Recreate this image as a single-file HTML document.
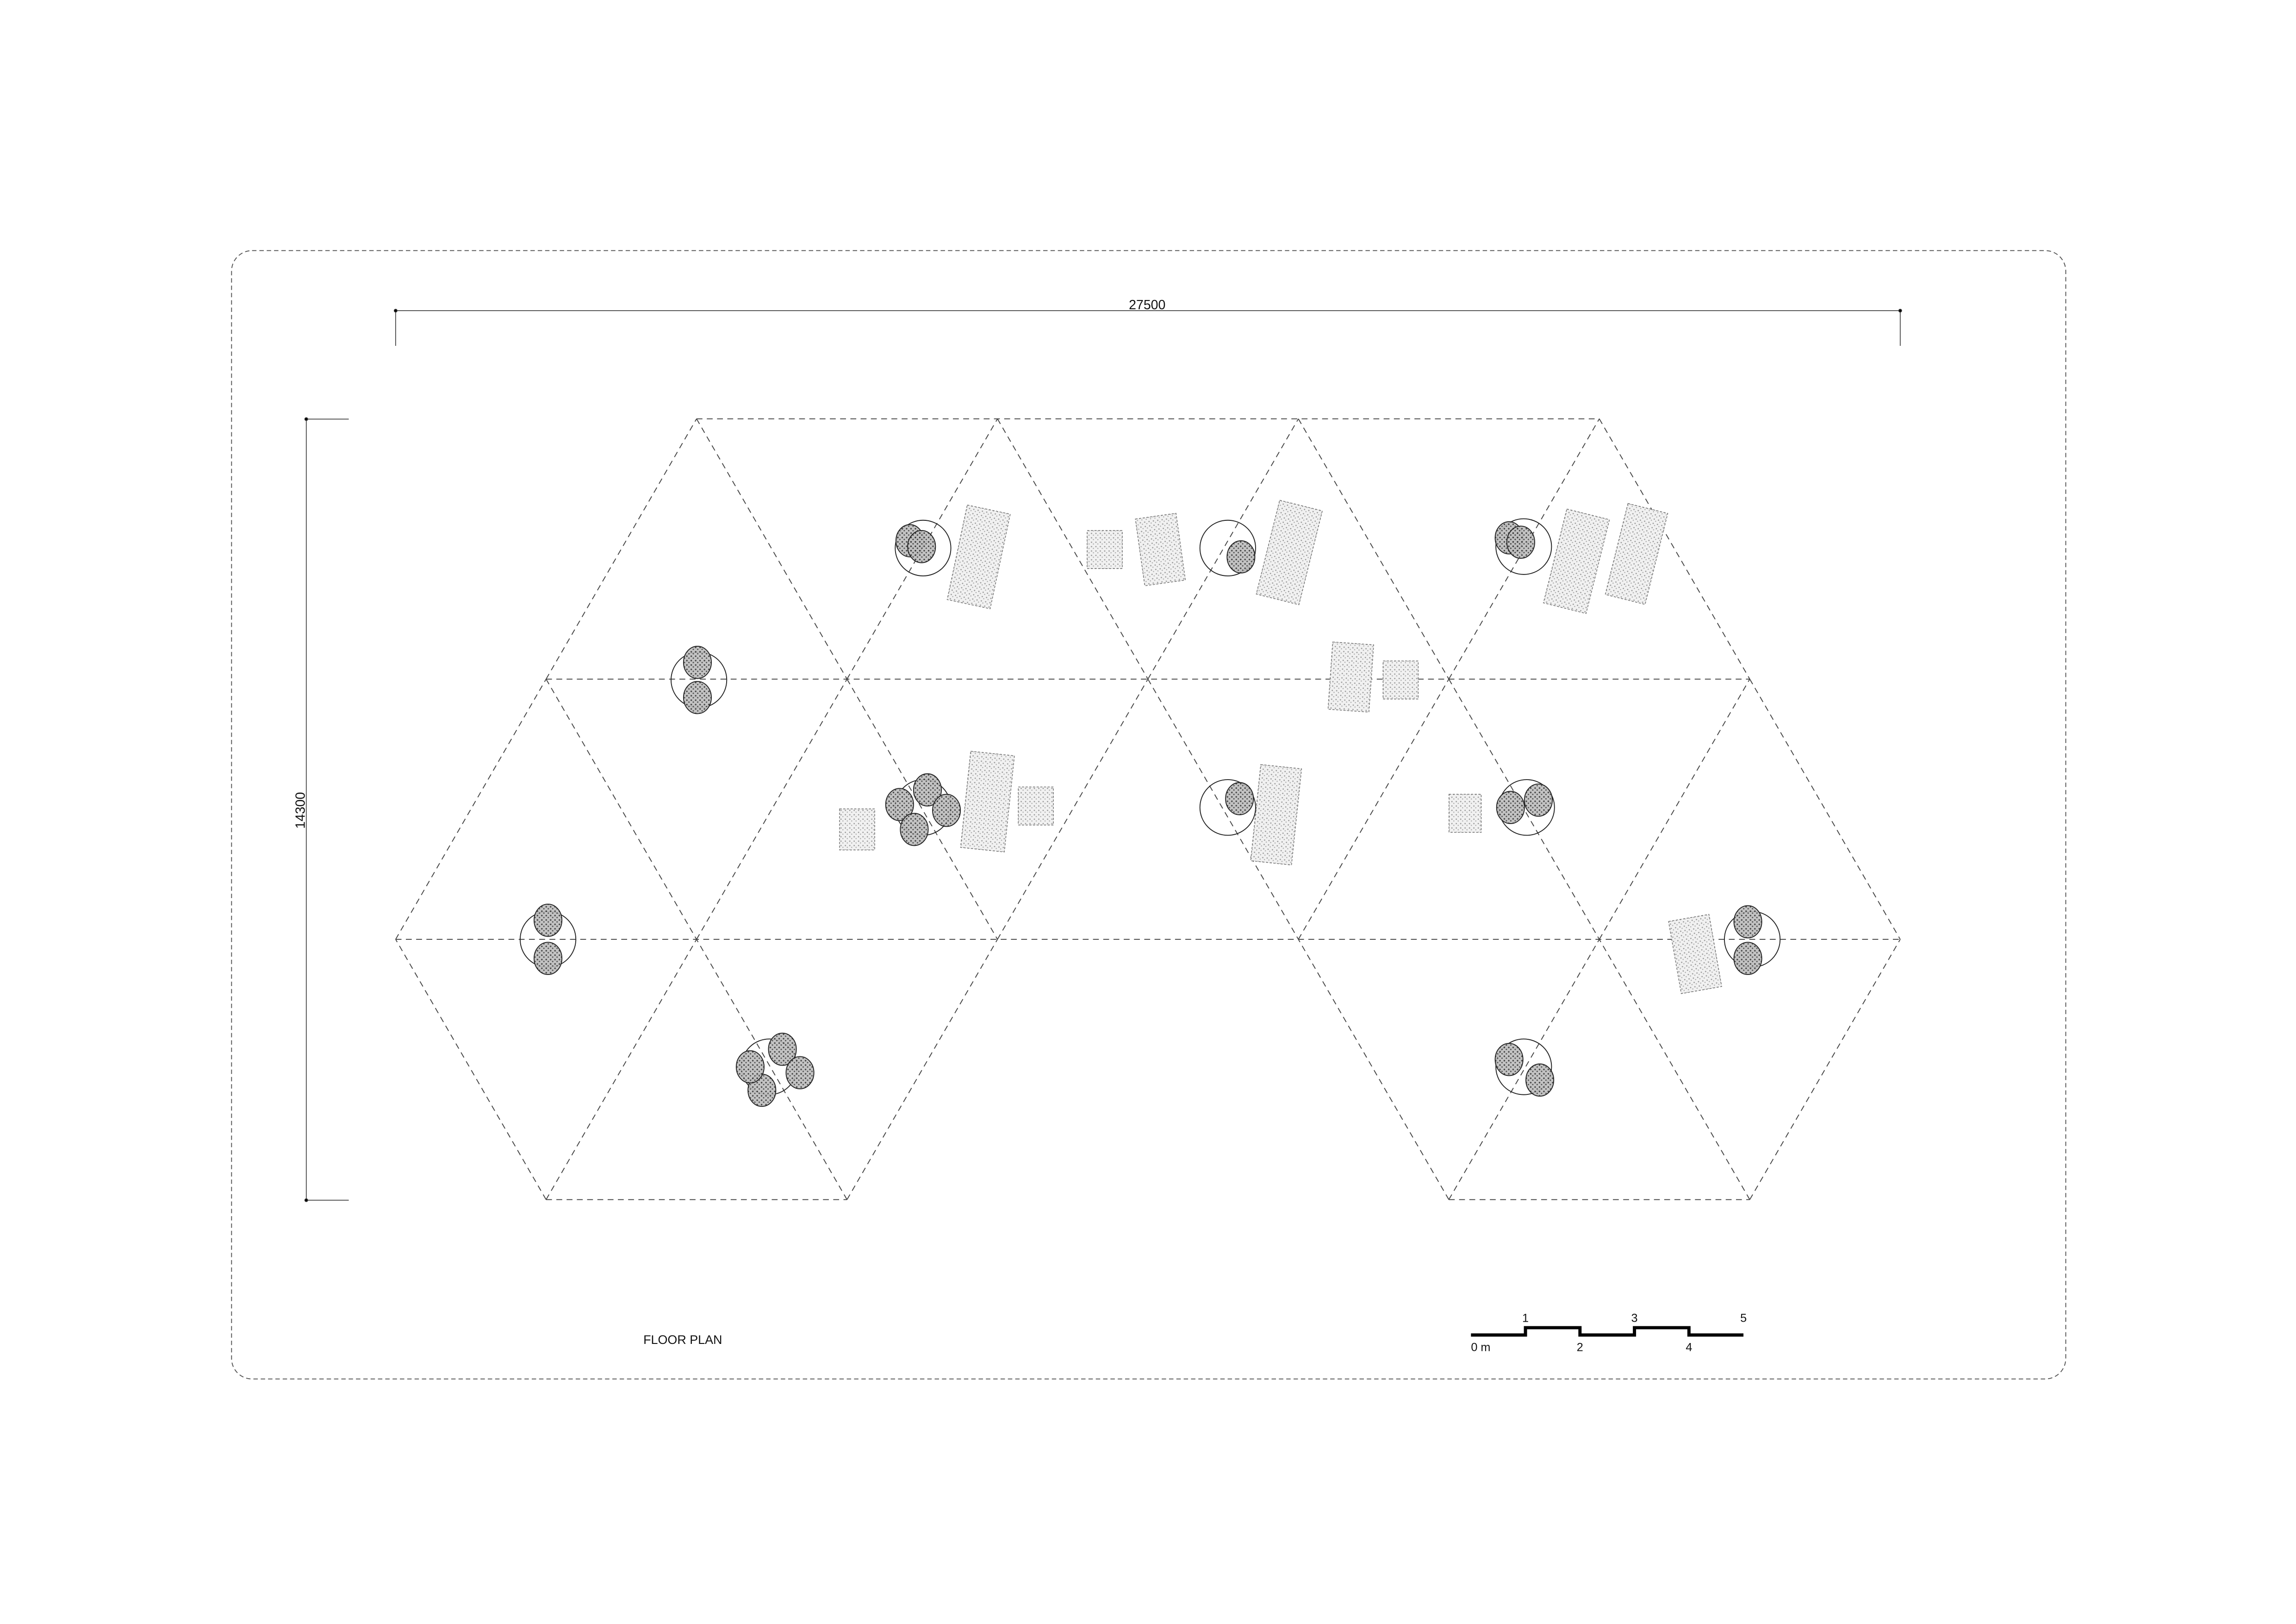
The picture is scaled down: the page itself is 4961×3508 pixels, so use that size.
<!DOCTYPE html>
<html><head><meta charset="utf-8"><style>
html,body{margin:0;padding:0;background:#fff;}
svg{display:block;}
text{font-family:"Liberation Sans",sans-serif;fill:#111;}
</style></head><body>
<svg width="4961" height="3508" viewBox="0 0 1567.1 1108.2" xmlns="http://www.w3.org/2000/svg">
<defs>
<pattern id="stip" width="3" height="3" patternUnits="userSpaceOnUse">
<rect width="3" height="3" fill="#bdbdbd"/>
<circle cx="0.8" cy="0.8" r="0.55" fill="#333"/><circle cx="2.2" cy="2.1" r="0.5" fill="#444"/>
</pattern>
<pattern id="stipL" width="3" height="3" patternUnits="userSpaceOnUse">
<rect width="3" height="3" fill="#f1f1f1"/>
<circle cx="1" cy="1" r="0.45" fill="#999"/><circle cx="2.3" cy="2.2" r="0.4" fill="#aaa"/>
</pattern>
</defs>
<rect x="158" y="171" width="1252" height="770" rx="14" fill="none" stroke="#555" stroke-width="0.6" stroke-dasharray="3,2"/>
<g stroke="#333" stroke-width="0.5">
<line x1="270" y1="212" x2="1297" y2="212"/>
<line x1="270" y1="212" x2="270" y2="236"/><line x1="1297" y1="212" x2="1297" y2="236"/>
<circle cx="270" cy="212" r="1" fill="#000"/><circle cx="1297" cy="212" r="1" fill="#000"/>
</g>
<text x="783" y="211" font-size="9" text-anchor="middle">27500</text>
<g stroke="#333" stroke-width="0.5">
<line x1="209" y1="286" x2="209" y2="819"/>
<line x1="209" y1="286" x2="238" y2="286"/><line x1="209" y1="819" x2="238" y2="819"/>
<circle cx="209" cy="286" r="1" fill="#000"/><circle cx="209" cy="819" r="1" fill="#000"/>
</g>
<text x="0" y="0" font-size="9" text-anchor="middle" transform="translate(208,553) rotate(-90)">14300</text>
<g id="grid" stroke="#444" stroke-width="0.6" stroke-dasharray="4,3" fill="none"></g>
<g id="furn"></g>
<text x="466" y="917" font-size="8.5" text-anchor="middle">FLOOR PLAN</text>
<g id="scale"></g>
</svg>
<script>
const NS='http://www.w3.org/2000/svg';
const X0=270,S=205.4,Y0=641,H=177.6;
function P(i,r){return [X0+S*(i+r/2),Y0-H*r];}
const grid=document.getElementById('grid');
function seg(a,b){const l=document.createElementNS(NS,'line');
l.setAttribute('x1',a[0]);l.setAttribute('y1',a[1]);l.setAttribute('x2',b[0]);l.setAttribute('y2',b[1]);


grid.appendChild(l);}
seg(P(0,2),P(3,2));seg(P(0,1),P(4,1));seg(P(0,0),P(5,0));
seg(P(1,-1),P(2,-1));seg(P(4,-1),P(5,-1));
for(let j=0;j<4;j++){seg(P(j,1),P(j,2));seg(P(j,2),P(j+1,1));}
for(let j=0;j<5;j++){seg(P(j,0),P(j,1));seg(P(j,1),P(j+1,0));}
[[1,2],[4,5]].forEach(([a,b])=>{for(let k=a;k<=b;k++){seg(P(k,-1),P(k-1,0));seg(P(k,-1),P(k,0));}});
const furn=document.getElementById('furn');
const cushions=[[668,380,30,66,12],[754,375,24,26,0],[792,375,28,46,-8],[880,377,30,66,14],[1076,383,30,66,14],[1117,378,28,64,14],[922,462,28,46,4],[956,464,24,26,0],[674,547,30,66,6],[707,550,24,26,0],[585,566,24,28,0],[871,556,28,66,6],[1000,555,22,26,0],[1157,651,28,50,-10]];
cushions.forEach(c=>{const r=document.createElementNS(NS,'rect');
r.setAttribute('x',c[0]-c[2]/2);r.setAttribute('y',c[1]-c[3]/2);r.setAttribute('width',c[2]);r.setAttribute('height',c[3]);
r.setAttribute('fill','url(#stipL)');r.setAttribute('stroke','#777');r.setAttribute('stroke-width','0.5');r.setAttribute('stroke-dasharray','1.5,1');
r.setAttribute('transform','rotate('+c[4]+' '+c[0]+' '+c[1]+')');


furn.appendChild(r);});
const planters=[[630,374,[[621,369],[629,373]]],[477,464,[[476,452],[476,476]]],[838,374,[[847,380]]],[1040,373,[[1030,367],[1038,370]]],
[630,551,[[614,549],[633,539],[646,553],[624,566]]],[838,551,[[846,545]]],[1042,551,[[1031,551],[1050,546]]],
[374,641,[[374,628],[374,654]]],[1196,641,[[1193,629],[1193,654]]],[525,728,[[534,716],[546,732],[520,744],[512,728]]],[1040,728,[[1030,723],[1051,737]]]];
planters.forEach(p=>{
const c=document.createElementNS(NS,'circle');
c.setAttribute('cx',p[0]);c.setAttribute('cy',p[1]);c.setAttribute('r',19);c.setAttribute('fill','none');c.setAttribute('stroke','#222');c.setAttribute('stroke-width','0.6');


furn.appendChild(c);
p[2].forEach(t=>{const e=document.createElementNS(NS,'ellipse');
e.setAttribute('cx',t[0]);e.setAttribute('cy',t[1]);e.setAttribute('rx',9.5);e.setAttribute('ry',11);
e.setAttribute('fill','url(#stip)');e.setAttribute('fill-opacity','0.9');e.setAttribute('stroke','#222');e.setAttribute('stroke-width','0.6');


furn.appendChild(e);});
});
const sc=document.getElementById('scale');
const sx=1004,sw=37.2;
let d='M'+sx+' 911';
for(let i=0;i<5;i++){const y=(i%2==0)?911:906;d+=' L'+(sx+sw*i)+' '+y+' L'+(sx+sw*(i+1))+' '+y;}
const pth=document.createElementNS(NS,'path');
pth.setAttribute('d',d);pth.setAttribute('fill','none');pth.setAttribute('stroke','#000');pth.setAttribute('stroke-width','2.2');


sc.appendChild(pth);
const labels=['0 m','1','2','3','4','5'];
labels.forEach((t,i)=>{const tx=document.createElementNS(NS,'text');
const up=i%2==1;
tx.setAttribute('x',i==0?sx:sx+sw*i);tx.setAttribute('y',up?902:922);tx.setAttribute('font-size','8');
tx.setAttribute('text-anchor',i==0?'start':'middle');tx.textContent=t;


sc.appendChild(tx);});
</script>
</body></html>
